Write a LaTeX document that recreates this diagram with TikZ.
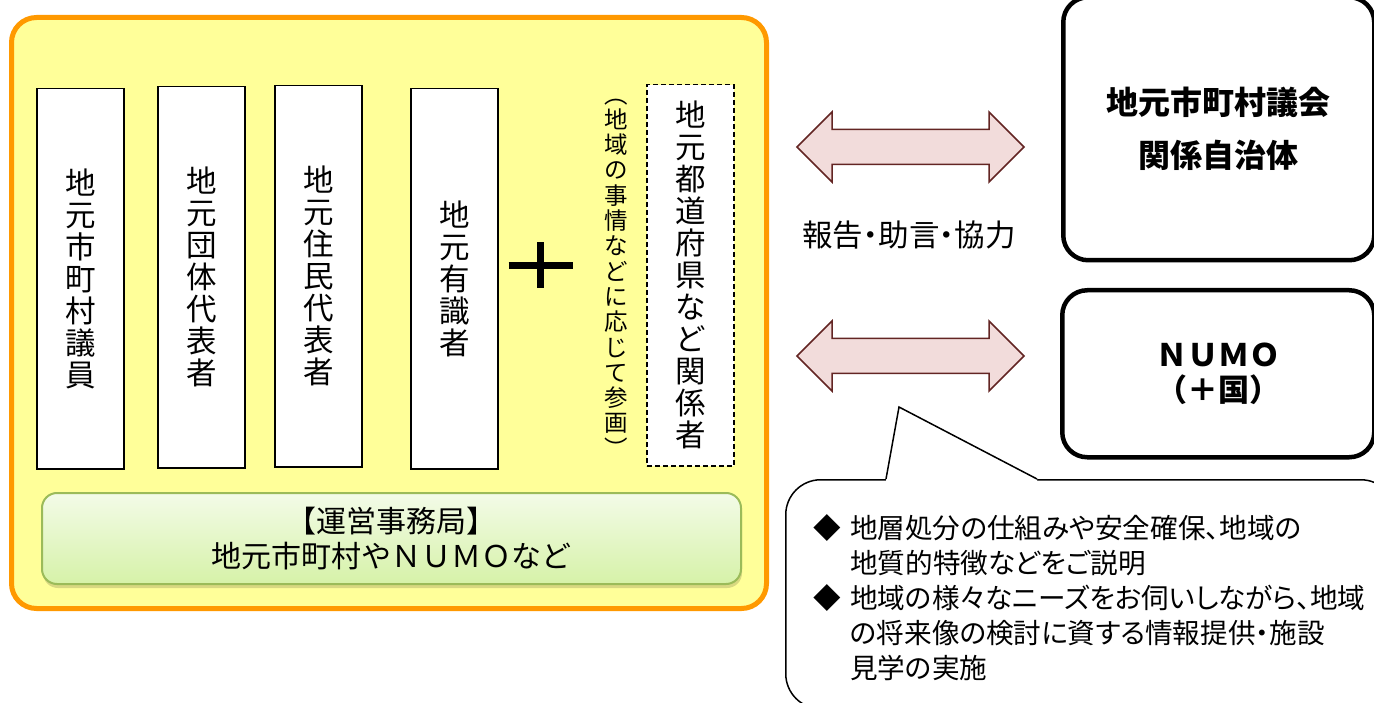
\documentclass[tikz,border=0pt]{standalone}
\usepackage{fontspec}
\setmainfont{Noto Sans CJK JP}
\newfontfamily\pjp{Noto Sans CJK JP}[RawFeature=+palt]
\usetikzlibrary{shadows}
\definecolor{orangeB}{RGB}{255,153,0}
\definecolor{yellowF}{RGB}{255,255,153}
\definecolor{greenB}{RGB}{155,187,89}
\definecolor{greenT}{RGB}{243,251,232}
\definecolor{greenBot}{RGB}{214,242,168}
\definecolor{arrowF}{RGB}{242,220,219}
\definecolor{arrowB}{RGB}{99,37,35}
\begin{document}
\begin{tikzpicture}[x=1pt,y=-1pt,
  vbox/.style={draw=black,line width=1.5pt,fill=white,minimum width=87pt,inner sep=0pt,align=center,anchor=north west,font=\fontsize{30.5}{32}\selectfont},
  rbox/.style={draw=black,line width=4.5pt,fill=white,rounded corners=25pt,inner sep=0pt,align=center,anchor=north west},
  dblarrowstyle/.style={draw=arrowB,line width=1.5pt,fill=arrowF,line join=miter},
  pics/dblarrow/.style={code={
    \draw[dblarrowstyle] (-113.5,0) -- (-78.5,-35) -- (-78.5,-17.5) -- (78.5,-17.5) -- (78.5,-35) -- (113.5,0)
      -- (78.5,35) -- (78.5,17.5) -- (-78.5,17.5) -- (-78.5,35) -- cycle;}},
]
\fill[white] (0,0) rectangle (1374,703);
\useasboundingbox (0,0) rectangle (1374,703);

% council frame
\node[draw=orangeB,fill=yellowF,line width=5pt,rounded corners=25pt,minimum width=755pt,minimum height=591pt,anchor=north west,inner sep=0pt] (council) at (9,15) {};

\node[vbox,minimum height=380pt] (m1) at (36,88) {地\\元\\市\\町\\村\\議\\員};
\node[vbox,minimum height=381pt] (m2) at (157,86) {地\\元\\団\\体\\代\\表\\者};
\node[vbox,minimum height=381pt] (m3) at (274,85) {地\\元\\住\\民\\代\\表\\者};
\node[vbox,minimum height=380pt] (m4) at (410,88) {地\\元\\有\\識\\者};
\node[vbox,dash pattern=on 5pt off 3pt,minimum height=381pt] (m5) at (646,84) {地\\元\\都\\道\\府\\県\\な\\ど\\関\\係\\者};
\node[align=center,inner sep=0pt,font=\fontsize{23.5}{25.3}\selectfont] (note) at (616,278) {︵\\地\\域\\の\\事\\情\\な\\ど\\に\\応\\じ\\て\\参\\画\\︶};

\coordinate (plus) at (540.5,265.5);
\draw[line width=7pt] (plus) ++(-32,0) -- ++(64,0);
\draw[line width=7pt] (plus) ++(0,-23) -- ++(0,46);

\node[draw=greenB,line width=2pt,top color=greenT,bottom color=greenBot,rounded corners=15pt,minimum width=699pt,minimum height=91pt,anchor=north west,inner sep=0pt,align=center,font=\fontsize{30}{35}\selectfont,
  drop shadow={shadow xshift=1pt,shadow yshift=-4pt,opacity=0.25,fill=black!60!yellowF}] (office) at (41,492) {【運営事務局】\\地元市町村やＮＵＭＯなど};

% arrows
\pic at (910.5,147) {dblarrow};
\pic at (910.5,356) {dblarrow};
\node[font=\pjp\fontsize{30.5}{30}\selectfont,inner sep=0pt] (lbl) at (909,235) {報告・助言・協力};

% right boxes
\node[rbox,minimum width=311pt,minimum height=263pt,font=\bfseries\fontsize{32}{53}\selectfont] (r1) at (1061,-5) {地元市町村議会\\関係自治体};
\node[rbox,minimum width=312pt,minimum height=167pt,font=\bfseries\fontsize{31}{35}\selectfont] (r2) at (1060,288) {ＮＵＭＯ\\（＋国）};

% callout
\node[draw=black,line width=1.5pt,fill=white,rounded corners=35pt,minimum width=610pt,minimum height=229pt,anchor=north west,inner sep=0pt] (callout) at (785,479) {};
\coordinate (tl) at (886,479);
\coordinate (tip) at (899,407);
\coordinate (tr) at (1037,479);
\fill[white] (tl) -- (tip) -- (tr) -- (1037,482) -- (886,482) -- cycle;
\draw[line width=1.5pt,line join=miter] (tl) -- (tip) -- (tr);
\node[anchor=north west,align=left,inner sep=0pt,font=\pjp\fontsize{27.6}{35}\selectfont] (ctext) at (813,514)
 {\makebox[37pt][l]{◆}地層処分の仕組みや安全確保、地域の\\
  \hspace*{37pt}地質的特徴などをご説明\\
  \makebox[37pt][l]{◆}地域の様々なニーズをお伺いしながら、地域\\
  \hspace*{37pt}の将来像の検討に資する情報提供・施設\\
  \hspace*{37pt}見学の実施};
\end{tikzpicture}
\end{document}
